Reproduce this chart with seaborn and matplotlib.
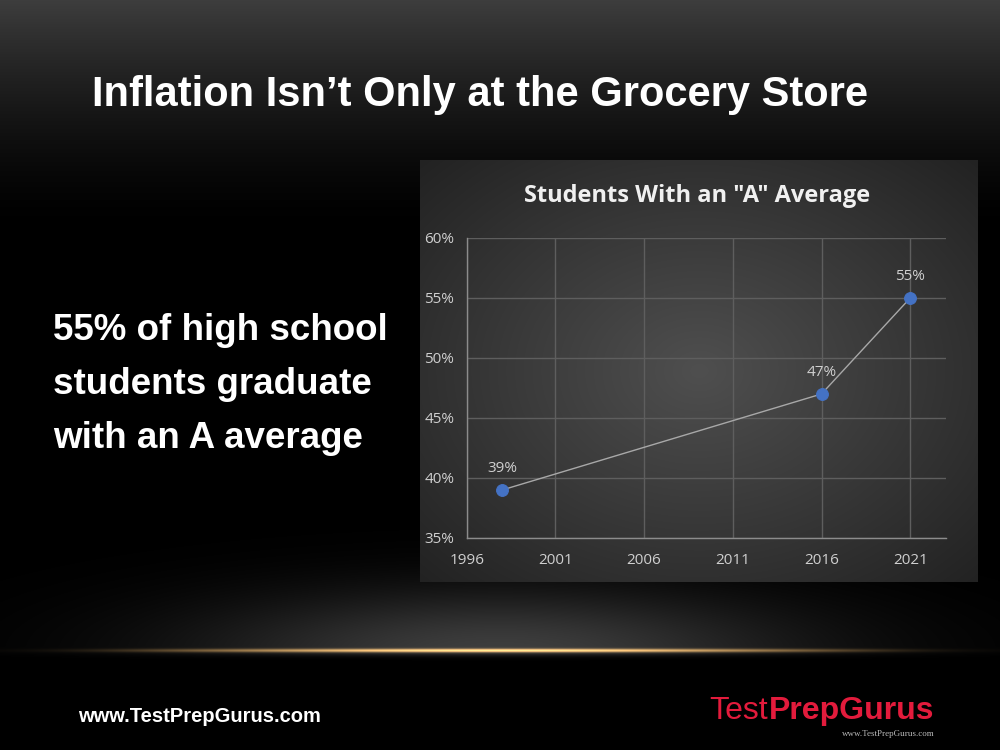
# Slide: "Inflation Isn't Only at the Grocery Store" - share of students with an A average
import numpy as np
import pandas as pd
import matplotlib
matplotlib.use("Agg")
import matplotlib.pyplot as plt
import seaborn as sns

# data
years = [1998, 2016, 2021]
a_share = [39, 47, 55]
x_ticks = [1996, 2001, 2006, 2011, 2016, 2021]
y_ticks = [35, 40, 45, 50, 55, 60]

slide_title = "Inflation Isn\u2019t Only at the Grocery Store"
chart_title = 'Students With an "A" Average'
side_text = "55% of high school\nstudents graduate\nwith an A average"

df = pd.DataFrame({"year": years, "share": a_share})

sns.set_theme(style="dark")
plt.rcParams["font.family"] = ["Liberation Sans", "DejaVu Sans"]

fig = plt.figure(figsize=(10, 7.5), dpi=100)
fig.patch.set_facecolor("black")

# slide background: dark top fade, soft glow, gold line
H, W = 750, 1000
yy, xx = np.mgrid[0:H, 0:W]
bg = np.zeros((H, W, 3))
top = np.clip(1 - yy / 230.0, 0, 1) ** 1.5 * 0.24
bg += top[..., None]
glow = np.exp(-(((xx - 500) / 300.0) ** 2) - (((yy - 650) / 60.0) ** 2)) * 0.24
below = yy > 650
glow[below] *= np.exp(-((yy[below] - 650) / 5.0) ** 2)
bg += glow[..., None]
spread = 0.75 * np.exp(-((xx - 500) / 260.0) ** 2) + 0.25 * np.exp(-((xx - 500) / 380.0) ** 6)
gold_line = np.exp(-((yy - 650) / 1.8) ** 2) * spread
bg += gold_line[..., None] * np.array([0.95, 0.70, 0.35])
bg = np.clip(bg, 0, 1)
ax_bg = fig.add_axes([0, 0, 1, 1])
ax_bg.imshow(bg, aspect="auto", extent=[0, 1, 0, 1], origin="upper")
ax_bg.set_axis_off()

# chart panel with radial gray gradient
ph, pw = 422, 557
py, px = np.mgrid[0:ph, 0:pw]
r = np.sqrt(((px - pw * 0.5) / (pw * 0.6)) ** 2 + ((py - ph * 0.5) / (ph * 0.6)) ** 2)
shade = 0.31 - 0.15 * np.clip(r, 0, 1.2)
panel = np.dstack([shade, shade, shade])
ax_panel = fig.add_axes([0.42, 0.224, 0.557, 0.5627])
ax_panel.imshow(panel, aspect="auto", vmin=0, vmax=1)
ax_panel.set_axis_off()

# the line chart itself
ax = fig.add_axes([0.4667, 0.2827, 0.479, 0.40])
ax.set_facecolor("none")
sns.lineplot(data=df, x="year", y="share", ax=ax, color="#a8a8a8", linewidth=1.0,
             marker="o", markersize=8.5, markerfacecolor="#4472c4",
             markeredgecolor="#4472c4")
for yr, v in zip(years, a_share):
    ax.annotate(f"{v}%", (yr, v), xytext=(0, 10), textcoords="offset points",
                ha="center", va="bottom", color="#d0d0d0", fontsize=11,
                family=["Open Sans", "DejaVu Sans"])

ax.set_xlim(1996, 2023)
ax.set_ylim(35, 60)
ax.set_xticks(x_ticks)
ax.set_yticks(y_ticks)
ax.set_yticklabels([f"{t}%" for t in y_ticks])
ax.set_xlabel("")
ax.set_ylabel("")
ax.grid(True, color="#5e5e5e", linewidth=1.0)
for side in ["top", "right"]:
    ax.spines[side].set_visible(False)
for side in ["left", "bottom"]:
    ax.spines[side].set_visible(True)
    ax.spines[side].set_color("#8c8c8c")
    ax.spines[side].set_linewidth(1.0)
ax.tick_params(colors="#cfcfcf", labelsize=11, length=0)
ax.tick_params(axis="x", pad=11)
ax.tick_params(axis="y", pad=9)
for lab in ax.get_xticklabels() + ax.get_yticklabels():
    lab.set_family(["Open Sans", "DejaVu Sans"])

fig.text(0.697, 0.738, chart_title, ha="center", va="center", color="#f0f0f0",
         fontsize=17, fontweight="bold", family=["Open Sans", "DejaVu Sans"])

# slide texts
fig.text(0.48, 0.873, slide_title, ha="center", va="center", color="white",
         fontsize=30, fontweight="bold")
fig.text(0.053, 0.487, side_text, ha="left", va="center", color="white",
         fontsize=26.5, fontweight="bold", linespacing=1.7)
fig.text(0.078, 0.045, "www.TestPrepGurus.com", ha="left", va="center", color="white",
         fontsize=14.5, fontweight="bold")

# logo
t1 = fig.text(0.709, 0.052, "Test", ha="left", va="center", color="#e31b3c",
              fontsize=23)
fig.canvas.draw()
bb = t1.get_window_extent()
fig.text(bb.x1 / 1000 + 0.001, 0.052, "PrepGurus", ha="left", va="center", color="#e31b3c",
         fontsize=23, fontweight="bold")
fig.text(0.935, 0.022, "www.TestPrepGurus.com", ha="right", va="center", color="#bbbbbb",
         fontsize=6.5, family=["Liberation Serif", "DejaVu Serif"])

fig.savefig("out.png", dpi=100, facecolor="black")
